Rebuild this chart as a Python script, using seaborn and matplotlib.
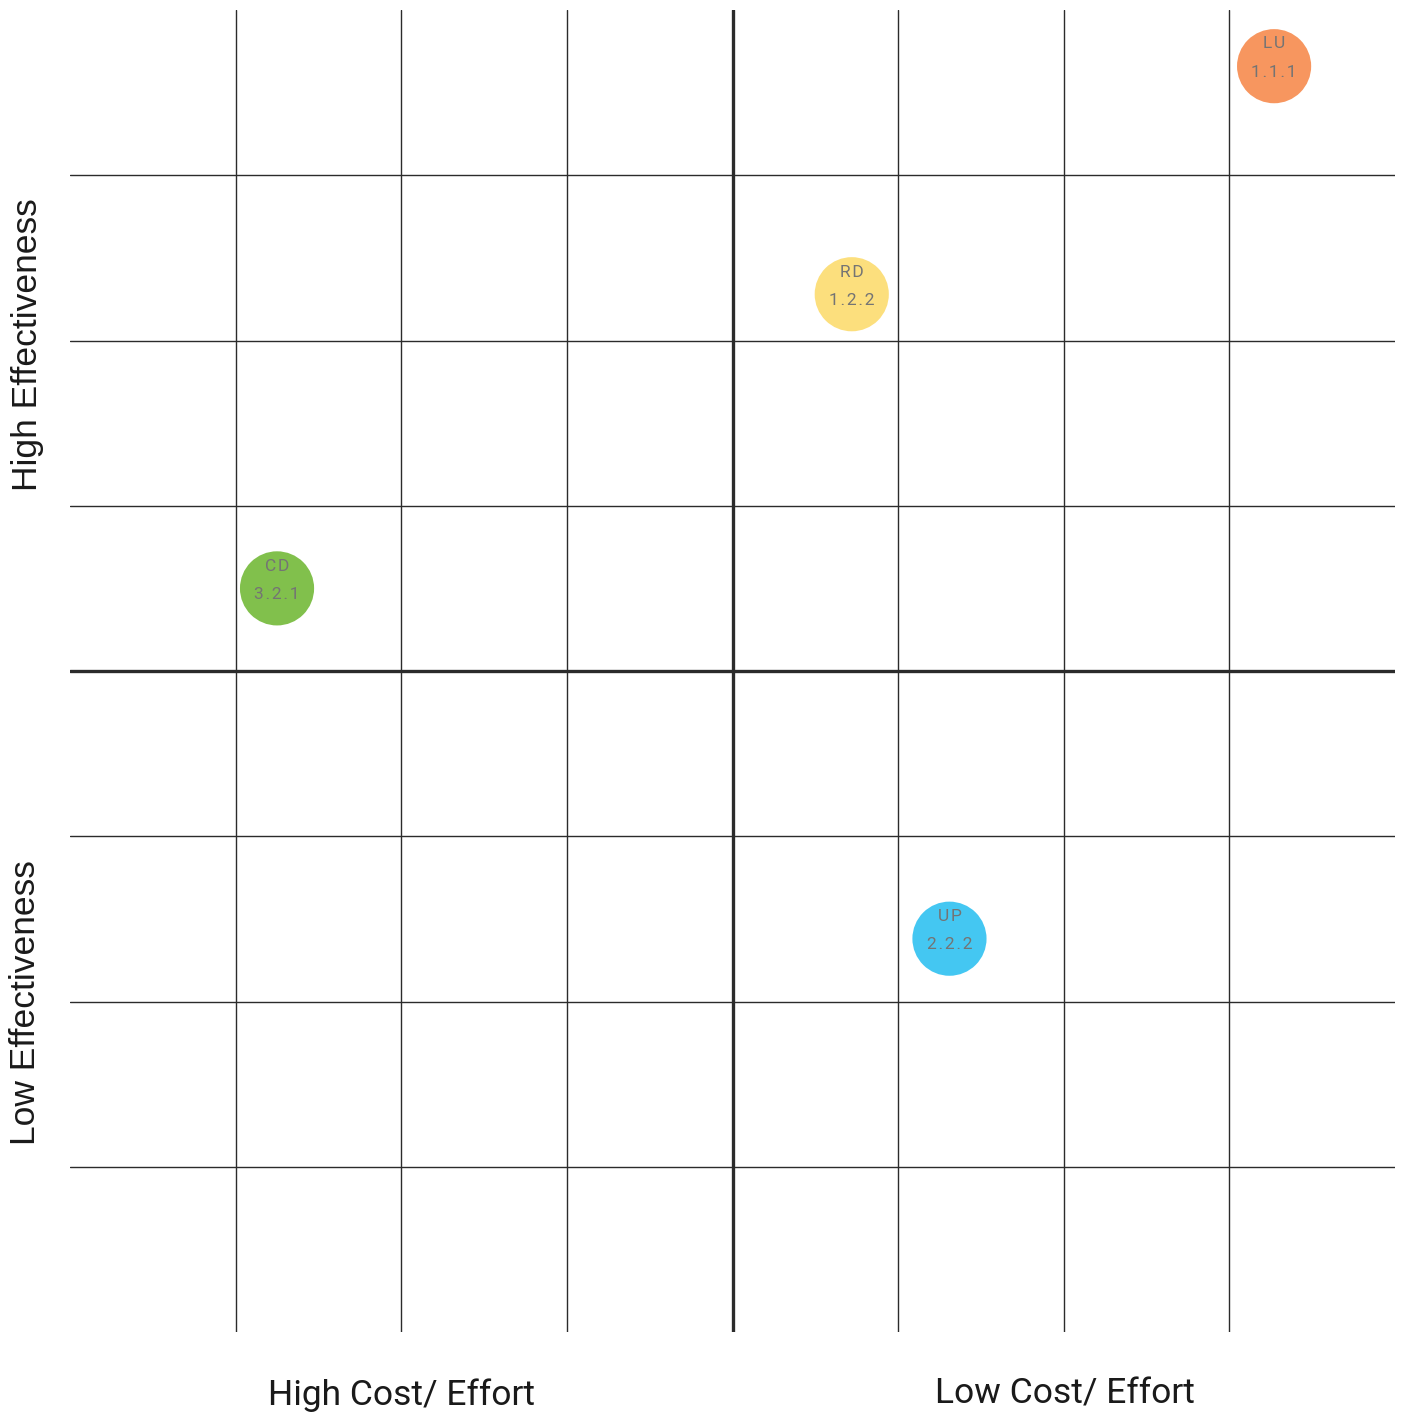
import numpy as np
import pandas as pd
import matplotlib
matplotlib.use("Agg")
import matplotlib.pyplot as plt
import seaborn as sns

# bubbles on the 8x8 priority grid (grid units, origin bottom-left)
names = ["LU", "RD", "CD", "UP"]
codes = ["1.1.1", "1.2.2", "3.2.1", "2.2.2"]
cost_pos = [7.27, 4.72, 1.25, 5.31]
effect_pos = [7.66, 6.28, 4.50, 2.38]
colors = ["#F7965F", "#FCDF7D", "#81C04C", "#44C7F2"]

grid_lines = [1, 2, 3, 4, 5, 6, 7]
x_labels = ["High Cost/ Effort", "Low Cost/ Effort"]
y_labels = ["High Effectiveness", "Low Effectiveness"]

df = pd.DataFrame({"name": names, "code": codes, "x": cost_pos, "y": effect_pos})

sns.set_style("white")
plt.rcParams['font.family'] = ['Roboto', 'DejaVu Sans']

fig = plt.figure(figsize=(14.04, 14.13), dpi=100)
ax = fig.add_axes([70/1404, 81/1413, 1325/1404, 1322/1413])
ax.set_xlim(0, 8)
ax.set_ylim(0, 8)

for g in grid_lines:
    lw = 2.4 if g == 4 else 1.0
    ax.axvline(g, color="#2b2b2b", lw=lw, zorder=1)
    ax.axhline(g, color="#2b2b2b", lw=lw, zorder=1)

sns.scatterplot(data=df, x="x", y="y", hue="name", palette=colors, s=2850,
                linewidth=0, legend=False, ax=ax, zorder=3)


def spaced(t):
    # letter-spaced look of the bubble labels
    return "\u200a".join(t)


for i, row in df.iterrows():
    ax.annotate(spaced(row["name"]), (row["x"], row["y"]), xytext=(0, 16), textcoords="offset points",
                ha="center", va="center", fontsize=12.5, color="#747474", zorder=4)
    ax.annotate(spaced(row["code"]), (row["x"], row["y"]), xytext=(0, -4.5), textcoords="offset points",
                ha="center", va="center", fontsize=12.5, color="#747474", zorder=4)

ax.set_xticks([])
ax.set_yticks([])
ax.set_xlabel("")
ax.set_ylabel("")
for s in ax.spines.values():
    s.set_visible(False)

fig.text(402/1404, 8/1413, x_labels[0], ha="center", va="baseline", fontsize=25.5, color="#1a1a1a")
fig.text(1065/1404, 10/1413, x_labels[1], ha="center", va="baseline", fontsize=25.5, color="#1a1a1a")
fig.text(28/1404, (1413-345)/1413, y_labels[0], ha="center", va="center", rotation=90,
         fontsize=25.5, color="#1a1a1a", family=["Liberation Sans", "DejaVu Sans"])
fig.text(26/1404, (1413-1003)/1413, y_labels[1], ha="center", va="center", rotation=90,
         fontsize=25.5, color="#1a1a1a", family=["Liberation Sans", "DejaVu Sans"])

fig.savefig("out.png", dpi=100)
